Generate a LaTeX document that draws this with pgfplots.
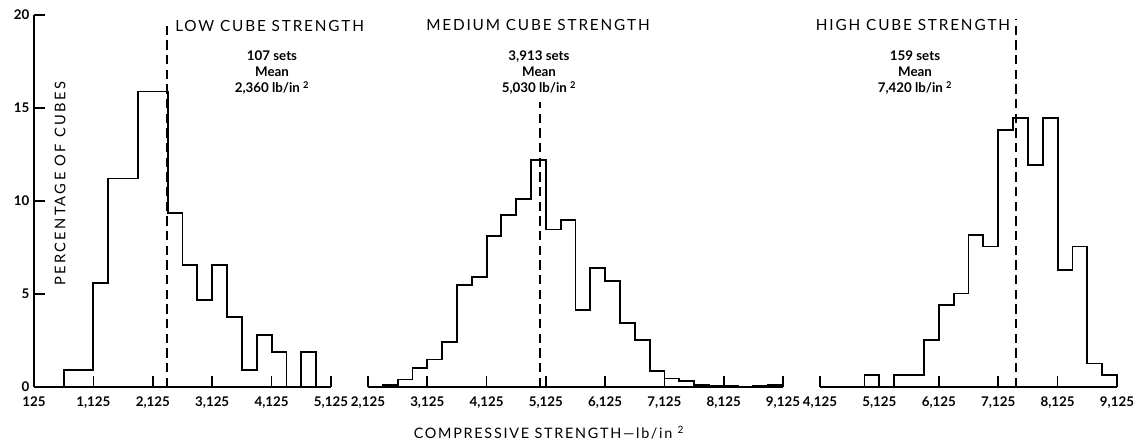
\documentclass[border=0pt]{standalone}
\usepackage{fontspec}
\setmainfont{Lato}
\newfontfamily\spaced{Lato}[LetterSpace=12]
\newfontfamily\spacedwide{Lato}[LetterSpace=16]
\usepackage{pgfplots}
\pgfplotsset{compat=1.18}
\tikzset{meanline/.style={black, line width=1.3pt, dash pattern=on 7pt off 4pt}}
\pgfplotsset{
  hist/.style={
    scale only axis, height=279pt, ymin=0, ymax=20,
    axis x line*=bottom,
    axis line style={line width=1.5pt},
    xticklabel style={font=\bfseries\fontsize{10}{10}\selectfont, yshift=-3.5pt},
    yticklabel style={font=\bfseries\fontsize{10}{10}\selectfont},
    /pgf/number format/assume math mode=true,
    clip=false,
  },
  myticks/.style={tick align=inside, major tick length=8pt,
    tick style={black, line width=1.2pt}},
  histline/.style={const plot, black, line width=1.4pt, mark=none, line join=miter},
}
\begin{document}
\begin{tikzpicture}
\useasboundingbox (0,0) rectangle (854.25pt,330.75pt);
% LOW
\begin{axis}[hist, at={(25.5pt,40.5pt)}, anchor=south west, width=222.75pt,
  xmin=125, xmax=5125, axis y line*=left,
  xtick={125,1125,2125,3125,4125,5125},
  xticklabels={125,{1,125},{2,125},{3,125},{4,125},{5,125}},
  ytick={0,5,10,15,20}, myticks]
\addplot[histline] coordinates {
(625,0) (625,0.93) (1125,5.61) (1375,11.21) (1875,15.89) (2375,9.35)
(2625,6.54) (2875,4.67) (3125,6.54) (3375,3.74) (3625,0.93) (3875,2.80)
(4125,1.87) (4375,0) (4625,1.87) (4875,0) };
\draw[meanline] (axis cs:2360,0) -- (axis cs:2360,19.7);
\end{axis}
% MEDIUM
\begin{axis}[hist, at={(276pt,40.5pt)}, anchor=south west, width=311.25pt,
  xmin=2125, xmax=9125, axis y line=none,
  xtick={2125,3125,4125,5125,6125,7125,8125,9125},
  xticklabels={{2,125},{3,125},{4,125},{5,125},{6,125},{7,125},{8,125},{9,125}},
  myticks]
\addplot[histline] coordinates {
(2125,0.03) (2375,0.1) (2625,0.4) (2875,1.0) (3125,1.48) (3375,2.43)
(3625,5.47) (3875,5.9) (4125,8.1) (4375,9.27) (4625,10.1) (4875,12.2)
(5125,8.47) (5375,8.97) (5625,4.13) (5875,6.4) (6125,5.69) (6375,3.45)
(6625,2.52) (6875,0.85) (7125,0.46) (7375,0.31) (7625,0.1) (7875,0.08)
(8125,0.05) (8375,0.03) (8625,0.05) (8875,0.1) (9125,0) };
\draw[meanline] (axis cs:5030,0) -- (axis cs:5030,15.3);
\end{axis}
% HIGH
\begin{axis}[hist, at={(615pt,40.5pt)}, anchor=south west, width=222.75pt,
  xmin=4125, xmax=9125, axis y line=none,
  xtick={4125,5125,6125,7125,8125,9125},
  xticklabels={{4,125},{5,125},{6,125},{7,125},{8,125},{9,125}},
  myticks]
\addplot[histline] coordinates {
(4875,0) (4875,0.63) (5125,0) (5375,0.63) (5875,2.52) (6125,4.40)
(6375,5.03) (6625,8.18) (6875,7.55) (7125,13.84) (7375,14.47) (7625,11.95)
(7875,14.47) (8125,6.29) (8375,7.55) (8625,1.26) (8875,0.63) (9125,0) };
\draw[meanline] (axis cs:7420,0) -- (axis cs:7420,19.8);
\end{axis}
% texts
\begin{scope}[x=0.75pt,y=0.75pt]
\node[anchor=west, inner sep=0] at (175,415) {\spaced\fontsize{11.5}{12}\selectfont LOW CUBE STRENGTH};
\node[inner sep=0] at (538,416) {\spaced\fontsize{11.5}{12}\selectfont MEDIUM CUBE STRENGTH};
\node[inner sep=0] at (913,416) {\spaced\fontsize{11.5}{12}\selectfont HIGH CUBE STRENGTH};
\node[align=center, inner sep=0, font=\bfseries\fontsize{10}{12}\selectfont] at (272,368) {107 sets\\Mean\\2,360 lb/in \textsuperscript{2}};
\node[align=center, inner sep=0, font=\bfseries\fontsize{10}{12}\selectfont] at (539,368) {3,913 sets\\Mean\\5,030 lb/in \textsuperscript{2}};
\node[align=center, inner sep=0, font=\bfseries\fontsize{10}{12}\selectfont] at (915,368) {159 sets\\Mean\\7,420 lb/in \textsuperscript{2}};
\node[rotate=90, inner sep=0] at (60,257) {\spacedwide\fontsize{11}{12}\selectfont PERCENTAGE OF CUBES};
\node[inner sep=0] at (549,8) {\spaced\fontsize{10.8}{12}\selectfont COMPRESSIVE STRENGTH—lb/in \textsuperscript{2}};
\end{scope}
\end{tikzpicture}
\end{document}
